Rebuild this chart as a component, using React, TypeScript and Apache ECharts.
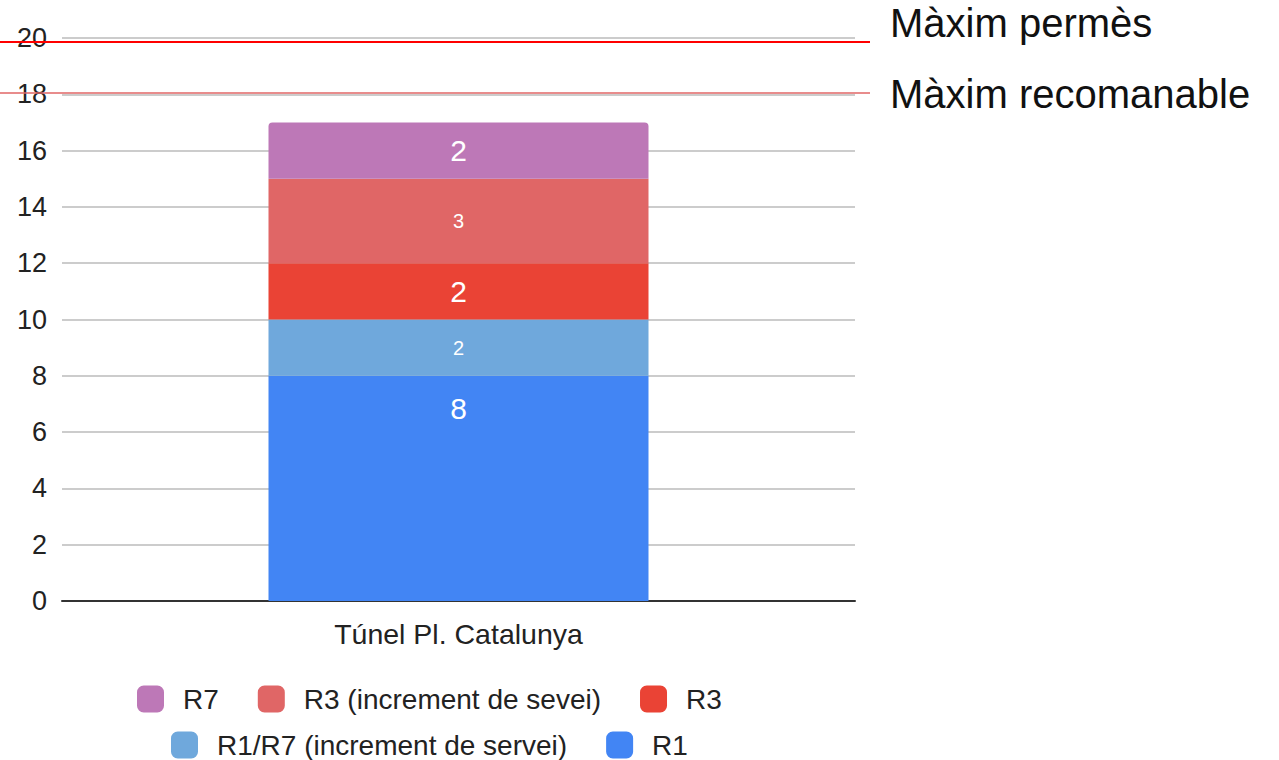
import React, { useEffect, useRef } from "react";
import * as echarts from "echarts";

const categories = ["Túnel Pl. Catalunya"];
const seriesNames = ["R1", "R1/R7 (increment de servei)", "R3", "R3 (increment de sevei)", "R7"];
const r1 = [8];
const r1r7Inc = [2];
const r3 = [2];
const r3Inc = [3];
const r7 = [2];
const seriesColors = ["#4285f4", "#6fa8dc", "#ea4335", "#e06666", "#bd78b7"];
const labelSizes = [30, 20, 30, 20, 30];
const legendRow1 = ["R7", "R3 (increment de sevei)", "R3"];
const legendRow2 = ["R1/R7 (increment de servei)", "R1"];
const limitNames = ["Màxim permès", "Màxim recomanable"];
const limitValues = [19.86, 18.05];
const limitColors = ["#ff0000", "#e06666"];
const limitWidths = [2, 1.5];
const yTicks = { min: 0, max: 20, interval: 2 };

const FONT = "'Liberation Sans', Arial, sans-serif";

export default function App() {
  const ref = useRef<HTMLDivElement>(null);
  useEffect(() => {
    if (!ref.current) return;
    const chart = echarts.init(ref.current, null, { renderer: "svg" });
    const allData = [r1, r1r7Inc, r3, r3Inc, r7];
    const series = allData.map((d, i) => ({
      name: seriesNames[i],
      type: "bar",
      stack: "total",
      barWidth: 380,
      data: d,
      itemStyle: {
        color: seriesColors[i],
        borderRadius: i === allData.length - 1 ? [4, 4, 0, 0] : 0,
      },
      label: {
        show: true,
        position: i === 0 ? "insideTop" : "inside",
        distance: 18,
        color: "#ffffff",
        fontSize: labelSizes[i],
        fontFamily: FONT,
      },
    }));
    const legendCommon = {
      orient: "horizontal",
      padding: 0,
      itemWidth: 27,
      itemHeight: 27,
      itemGap: 39,
      icon: "roundRect",
      selectedMode: false,
      textStyle: {
        fontSize: 28,
        color: "#222222",
        fontFamily: FONT,
        padding: [0, 0, 0, 14],
      },
    };
    chart.setOption({
      animation: false,
      backgroundColor: "#ffffff",
      textStyle: { fontFamily: FONT },
      grid: { left: 62, right: 424, top: 38, bottom: 159, containLabel: false },
      legend: [
        { ...legendCommon, data: legendRow1, left: 137, top: 685 },
        { ...legendCommon, data: legendRow2, left: 171, top: 731 },
      ],
      xAxis: {
        type: "category",
        data: categories,
        axisLine: { lineStyle: { color: "#333333", width: 2 } },
        axisTick: { show: false },
        axisLabel: { fontSize: 28.5, color: "#222222", margin: 18, fontFamily: FONT },
      },
      yAxis: {
        type: "value",
        min: yTicks.min,
        max: yTicks.max,
        interval: yTicks.interval,
        axisLine: { show: false },
        axisTick: { show: false },
        axisLabel: { fontSize: 27, color: "#222222", margin: 15, fontFamily: FONT },
        splitLine: { lineStyle: { color: "#cccccc", width: 2 } },
      },
      series,
    });
    const textYs = [23, 94];
    const graphic: any[] = [];
    limitValues.forEach((v, i) => {
      const y = chart.convertToPixel({ yAxisIndex: 0 }, v) as number;
      graphic.push({
        type: "line",
        z: 100,
        shape: { x1: 0, y1: y, x2: 870, y2: y },
        style: { stroke: limitColors[i], lineWidth: limitWidths[i] },
      });
      graphic.push({
        type: "text",
        z: 100,
        x: 890,
        y: textYs[i],
        style: {
          text: limitNames[i],
          fontSize: 40,
          fontFamily: FONT,
          fill: "#111111",
          verticalAlign: "middle",
          textAlign: "left",
        },
      });
    });
    chart.setOption({ graphic });
    return () => chart.dispose();
  }, []);
  return (
    <div
      ref={ref}
      style={{ position: "absolute", left: 0, top: 0, width: 1279, height: 760 }}
    />
  );
}
